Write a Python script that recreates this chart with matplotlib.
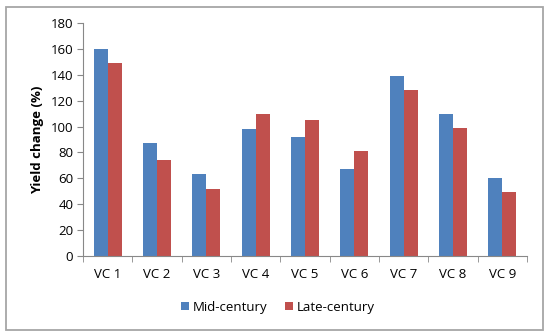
import numpy as np
import matplotlib
matplotlib.use("Agg")
import matplotlib.pyplot as plt
from matplotlib.patches import Rectangle

categories = ["VC 1", "VC 2", "VC 3", "VC 4", "VC 5", "VC 6", "VC 7", "VC 8", "VC 9"]
mid_century = [160, 87, 63, 98, 92, 67, 139, 110, 60]
late_century = [149, 74, 52, 110, 105, 81, 128, 99, 49]

plt.rcParams["font.family"] = ["Open Sans", "DejaVu Sans"]

fig = plt.figure(figsize=(5.5, 3.36), dpi=100)
ax = fig.add_axes([0.151, 0.239, 0.807, 0.692])

# outer chart border like the spreadsheet frame
fig.patches.append(Rectangle((0.010, 0.018), 0.977, 0.962, transform=fig.transFigure,
                             fill=False, edgecolor="#a6a6a6", linewidth=1.3))

x = np.arange(len(categories))
w = 0.286
ax.bar(x - w / 2, mid_century, w, color="#4F81BD", label="Mid-century")
ax.bar(x + w / 2, late_century, w, color="#C0504D", label="Late-century")

ax.set_xlim(-0.5, len(categories) - 0.5)
ax.set_ylim(0, 180)
ax.set_yticks(range(0, 181, 20))
ax.set_xticks(x)
ax.set_xticklabels(categories)
ax.set_xticks(np.arange(-0.5, len(categories), 1), minor=True)
ax.tick_params(axis="x", which="major", length=0, pad=9, labelsize=9.5)
ax.tick_params(axis="x", which="minor", length=4, color="#888888")
ax.tick_params(axis="y", length=4, color="#888888", labelsize=9.5, pad=3)

for s in ["top", "right"]:
    ax.spines[s].set_visible(False)
for s in ["left", "bottom"]:
    ax.spines[s].set_color("#888888")

ax.set_ylabel("Yield change (%)", fontsize=9.5, fontweight="bold", labelpad=5)

# legend is centred on the whole chart, not the plot area
ax.legend(loc="center", bbox_to_anchor=(0.505, 0.086), bbox_transform=fig.transFigure,
          ncol=2, frameon=False, fontsize=9.5, handlelength=0.6, handleheight=0.6,
          columnspacing=1.3, handletextpad=0.3)

fig.savefig("out.png", dpi=100)
